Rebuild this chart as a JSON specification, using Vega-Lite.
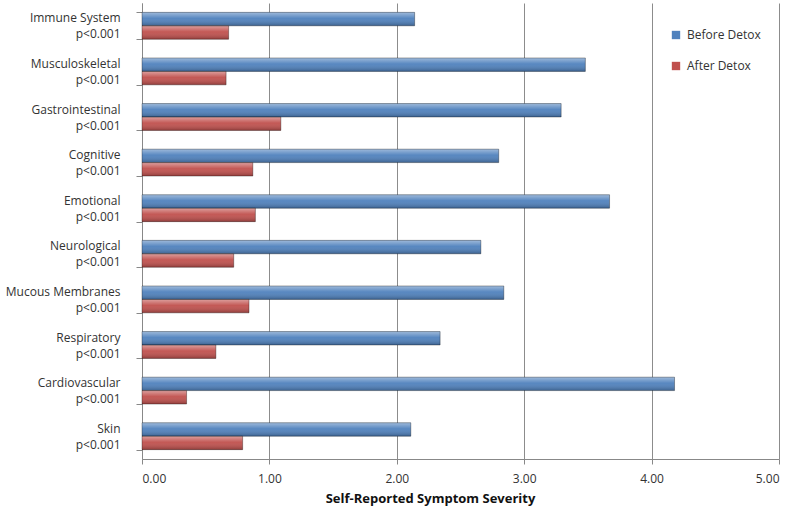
{
  "$schema": "https://vega.github.io/schema/vega-lite/v6.json",
  "width": 637,
  "height": 456,
  "autosize": "none",
  "padding": {"left": 142, "top": 3, "right": 16, "bottom": 49},
  "background": "white",
  "config": {
    "view": {"stroke": null},
    "font": "Open Sans",
    "axis": {"labelFont": "Open Sans", "titleFont": "Open Sans"}
  },
  "data": {
    "values": [
      {"category": "Immune System", "series": "Before Detox", "value": 2.14},
      {"category": "Immune System", "series": "After Detox", "value": 0.68},
      {"category": "Musculoskeletal", "series": "Before Detox", "value": 3.48},
      {"category": "Musculoskeletal", "series": "After Detox", "value": 0.66},
      {"category": "Gastrointestinal", "series": "Before Detox", "value": 3.29},
      {"category": "Gastrointestinal", "series": "After Detox", "value": 1.09},
      {"category": "Cognitive", "series": "Before Detox", "value": 2.80},
      {"category": "Cognitive", "series": "After Detox", "value": 0.87},
      {"category": "Emotional", "series": "Before Detox", "value": 3.67},
      {"category": "Emotional", "series": "After Detox", "value": 0.89},
      {"category": "Neurological", "series": "Before Detox", "value": 2.66},
      {"category": "Neurological", "series": "After Detox", "value": 0.72},
      {"category": "Mucous Membranes", "series": "Before Detox", "value": 2.84},
      {"category": "Mucous Membranes", "series": "After Detox", "value": 0.84},
      {"category": "Respiratory", "series": "Before Detox", "value": 2.34},
      {"category": "Respiratory", "series": "After Detox", "value": 0.58},
      {"category": "Cardiovascular", "series": "Before Detox", "value": 4.18},
      {"category": "Cardiovascular", "series": "After Detox", "value": 0.35},
      {"category": "Skin", "series": "Before Detox", "value": 2.11},
      {"category": "Skin", "series": "After Detox", "value": 0.79}
    ]
  },
  "encoding": {
    "y": {
      "field": "category",
      "type": "nominal",
      "sort": ["Immune System", "Musculoskeletal", "Gastrointestinal", "Cognitive", "Emotional", "Neurological", "Mucous Membranes", "Respiratory", "Cardiovascular", "Skin"],
      "scale": {"paddingInner": 0.41, "paddingOuter": 0.205},
      "axis": {
        "title": null,
        "labelExpr": "datum.label ? [datum.label, 'p<0.001'] : ''",
        "labelLineHeight": 16,
        "labelFontSize": 12,
        "labelColor": "#333333",
        "labelPadding": 16,
        "labelOffset": -8,
        "tickBand": "extent",
        "tickSize": 6,
        "tickColor": "#888888",
        "domainColor": "#888888",
        "grid": false
      }
    },
    "yOffset": {
      "field": "series",
      "type": "nominal",
      "sort": ["Before Detox", "After Detox"]
    },
    "x": {
      "field": "value",
      "type": "quantitative",
      "scale": {"domain": [0, 5], "nice": false},
      "axis": {
        "title": "Self-Reported Symptom Severity",
        "titleFontWeight": "bold",
        "titleFontSize": 13,
        "titleColor": "#111111",
        "titleX": 288,
        "titleY": 39,
        "titleBaseline": "middle",
        "titleAnchor": null,
        "values": [0, 1, 2, 3, 4, 5],
        "format": ".2f",
        "labelFontSize": 12,
        "labelColor": "#333333",
        "labelPadding": 9,
        "tickSize": 5,
        "tickColor": "#888888",
        "domainColor": "#888888",
        "grid": true,
        "gridColor": "#8c8c8c",
        "gridWidth": 1
      }
    }
  },
  "layer": [
    {
      "mark": {"type": "bar"},
      "encoding": {
        "color": {
          "field": "series",
          "type": "nominal",
          "scale": {"domain": ["Before Detox", "After Detox"], "range": ["#4F81BD", "#C0504D"]},
          "legend": {
            "title": null,
            "orient": "none",
            "legendX": 528,
            "legendY": 26,
            "symbolType": "square",
            "symbolSize": 70,
            "symbolStrokeWidth": 0,
            "labelFontSize": 12,
            "labelColor": "#333333",
            "rowPadding": 19,
            "labelOffset": 5
          }
        }
      }
    },
    {
      "mark": {
        "type": "bar",
        "fill": {
          "gradient": "linear",
          "x1": 0, "y1": 0, "x2": 0, "y2": 1,
          "stops": [
            {"offset": 0, "color": "rgba(255,255,255,0.45)"},
            {"offset": 0.45, "color": "rgba(255,255,255,0.05)"},
            {"offset": 1, "color": "rgba(0,0,0,0.25)"}
          ]
        },
        "stroke": "rgba(0,0,0,0.4)",
        "strokeWidth": 0.8
      },
      "encoding": {}
    }
  ]
}
